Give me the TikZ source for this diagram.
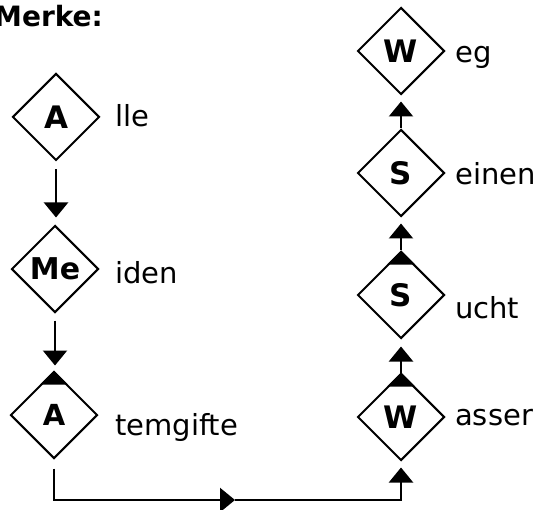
\documentclass[tikz,border=0pt]{standalone}
\usepackage{fontspec}
\setmainfont{DejaVu Sans}
\usetikzlibrary{shapes.geometric,arrows.meta}
\begin{document}
\begin{tikzpicture}[x=1pt,y=-1pt,
  dia/.style={diamond,draw,line width=2pt,minimum width=87pt,minimum height=87pt,inner sep=0pt,aspect=1,font=\fontsize{31}{32}\selectfont\bfseries},
  lbl/.style={anchor=base west,inner sep=0pt,font=\fontsize{29}{30}\selectfont},
  arr/.style={line width=2.2pt,-{Triangle[width=24pt,length=15pt]}},
  ln/.style={line width=2pt}]
\useasboundingbox (0,0) rectangle (537,510);
\node[anchor=base west,inner sep=0pt,font=\fontsize{28}{29}\selectfont\bfseries] (title) at (-6,27) {Merke:};
% left column
\node[dia] (a1) at (56,117) {A};
\node[dia,font=\fontsize{30}{31}\selectfont\bfseries] (me) at (55,269) {Me};
\node[dia,font=\fontsize{29}{30}\selectfont\bfseries] (a3) at (54,415) {A};
\node[lbl] (t1) at (115,127) {lle};
\node[lbl] (t2) at (115,283) {iden};
\node[lbl] (t3) at (115,435) {temgifte};
% right column
\node[dia] (w1) at (401,51) {W};
\node[dia] (s1) at (401,173) {S};
\node[dia] (s2) at (401,295) {S};
\node[dia] (w2) at (401,417) {W};
\node[lbl] (t4) at (455,63) {eg};
\node[lbl] (t5) at (455,185) {einen};
\node[lbl] (t6) at (455,318) {ucht};
\node[lbl] (t7) at (455,425) {asser};
% filled tops
\foreach \n in {a3,s2,w2}{
  \fill (\n.north) -- ++(-14,14) -- ++(28,0) -- cycle;
}
% left arrows
\draw[arr] ([yshift=-8pt]a1.south) -- ([yshift=7pt]a1.south |- me.north);
\draw[arr] ([yshift=-7pt]me.south) -- ([yshift=5pt]me.south |- a3.north);
% right arrows
\draw[arr] (w2.north) -- ([yshift=-7pt]s2.south);
\draw[arr] (s2.north) -- ([yshift=-6pt]s1.south);
\draw[arr] (s1.north) -- ([yshift=-6pt]w1.south);
% bottom connector
\coordinate (m) at (235,500);
\draw[arr] ([yshift=-9pt]a3.south) |- (m);
\draw[arr] (m) -| ([yshift=-6pt]w2.south);
\end{tikzpicture}
\end{document}
